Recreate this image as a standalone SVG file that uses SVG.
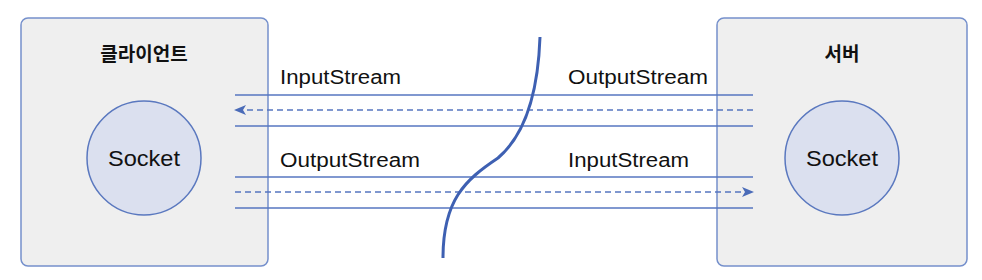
<svg xmlns="http://www.w3.org/2000/svg" width="982" height="280" viewBox="0 0 982 280">
<style>
.box{fill:#efefef;stroke:#7590cc;stroke-width:1.5}
.sock{fill:#dbe0ef;stroke:#5a78bf;stroke-width:1.5}
.title{font-family:"Noto Sans CJK KR",sans-serif;font-weight:bold;font-size:19px;fill:#111;text-anchor:middle}
.sl{font-family:"Liberation Sans",Arial,sans-serif;font-size:22px;fill:#111;text-anchor:middle}
.lbl{font-family:"Liberation Sans",Arial,sans-serif;font-size:20px;fill:#111}
.ln{stroke:#5676c0;stroke-width:1.5;fill:none}
.dash{stroke:#5676c0;stroke-width:1.5;fill:none;stroke-dasharray:6 4}
</style>
<defs>
<marker id="ah" viewBox="0 0 12 10" refX="11" refY="5" markerWidth="12" markerHeight="10" markerUnits="userSpaceOnUse" orient="auto">
<path d="M0,0 L12,5 L0,10 L3,5 Z" fill="#4a6bb8"/>
</marker>
</defs>
<g id="client">
<rect class="box" x="21" y="18" width="247" height="248" rx="7"/>
<text class="title" x="144" y="61">클라이언트</text>
<circle class="sock" cx="144" cy="158" r="57"/>
<text class="sl" x="144" y="166" textLength="72" lengthAdjust="spacingAndGlyphs">Socket</text>
</g>
<g id="server">
<rect class="box" x="717" y="18" width="250" height="248" rx="7"/>
<text class="title" x="842" y="61">서버</text>
<circle class="sock" cx="842" cy="158" r="57"/>
<text class="sl" x="842" y="166" textLength="72" lengthAdjust="spacingAndGlyphs">Socket</text>
</g>
<g id="connectors">
<line class="ln" x1="235" y1="95" x2="753" y2="95"/>
<line class="dash" x1="753" y1="110" x2="235" y2="110" marker-end="url(#ah)"/>
<line class="ln" x1="235" y1="126" x2="753" y2="126"/>
<line class="ln" x1="235" y1="177" x2="753" y2="177"/>
<line class="dash" x1="235" y1="192" x2="753" y2="192" marker-end="url(#ah)"/>
<line class="ln" x1="235" y1="208" x2="753" y2="208"/>
<path d="M540,37 C538,95 525,135 498,158 C465,180 443,200 443,258" fill="none" stroke="#3e60b2" stroke-width="3"/>
</g>
<g id="labels">
<text class="lbl" x="280" y="84" textLength="121" lengthAdjust="spacingAndGlyphs">InputStream</text>
<text class="lbl" x="568" y="84" textLength="140" lengthAdjust="spacingAndGlyphs">OutputStream</text>
<text class="lbl" x="280" y="167" textLength="140" lengthAdjust="spacingAndGlyphs">OutputStream</text>
<text class="lbl" x="568" y="167" textLength="121" lengthAdjust="spacingAndGlyphs">InputStream</text>
</g>
</svg>
